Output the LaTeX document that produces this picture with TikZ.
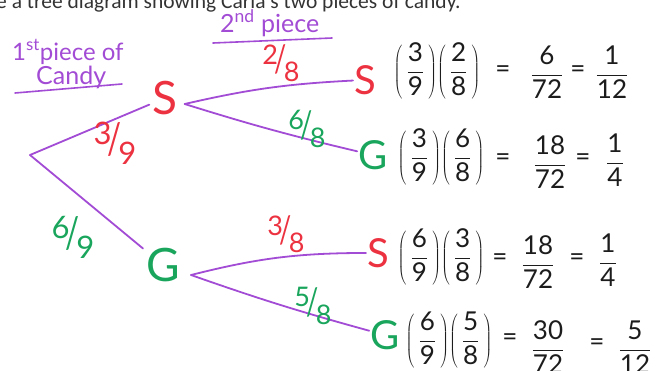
\documentclass[tikz,border=0pt]{standalone}
\usepackage{graphicx}
\usepackage{fontspec}
\setmainfont{Lato}
\newfontfamily\titlefont{Carlito}
\definecolor{pur}{HTML}{A24BD4}
\definecolor{rd}{HTML}{EC3240}
\definecolor{gr}{HTML}{1AA55C}
\definecolor{ink}{HTML}{1C1C1C}
\newcommand\pp[4]{$\displaystyle\left(\,\frac{\hbox{#1}}{\hbox{#2}}\,\right)\!\left(\,\frac{\hbox{#3}}{\hbox{#4}}\,\right)$}
\newcommand\fr[2]{$\displaystyle\frac{\hbox{#1}}{\hbox{#2}}$}
\newcommand\slf[2]{\raisebox{0.32em}{#1}\kern-0.12em\scalebox{1}[1.4]{/}\kern-0.12em\raisebox{-0.32em}{#2}}
\tikzset{
  branch/.style={draw=pur, line width=1.8pt, line cap=round},
  uline/.style={draw=pur, line width=1.6pt, line cap=round},
  big/.style={font=\fontsize{46}{50}\selectfont, inner sep=3pt},
  leaf/.style={font=\fontsize{40}{44}\selectfont, inner sep=1pt},
  prob/.style={font=\fontsize{26}{30}\selectfont, text=ink, inner sep=0pt},
  lab/.style={font=\fontsize{27}{30}\selectfont, inner sep=0pt},
  biglab/.style={font=\fontsize{31}{34}\selectfont, inner sep=0pt},
  hand/.style={text=pur, inner sep=0pt},
}
\begin{document}
\begin{tikzpicture}[x=1pt,y=-1pt]
\useasboundingbox (0,0) rectangle (658,370);
\clip (0,0) rectangle (658,370);
% cut-off title
\node[anchor=base west, font=\titlefont\fontsize{21.5}{24}\selectfont, text=black!80, inner sep=0pt] (title) at (-4,8) {e a tree diagram showing Carla's two pieces of candy.};
% column headings
\node[hand, anchor=base west, font=\fontsize{24}{26}\selectfont] (h1) at (12,60) {1\textsuperscript{st}piece of};
\node[hand, anchor=base west, font=\fontsize{25}{28}\selectfont] (h1b) at (36,84) {Candy};
\draw[uline] (15,93) -- (122,84);
\node[hand, anchor=base west, font=\fontsize{25}{28}\selectfont] (h2) at (220,32) {2\textsuperscript{nd} piece};
\draw[uline] (213,43) -- (332,38);
% tree
\coordinate (root) at (30,155);
\node[big, text=rd] (S) at (165,98) {S};
\node[big, text=gr] (G) at (163,265) {G};
\node[leaf, text=rd] (s1) at (365,80) {S};
\node[leaf, text=gr] (g2) at (373,155) {G};
\node[leaf, text=rd] (s3) at (378,253) {S};
\node[leaf, text=gr] (g4) at (385,335) {G};
\draw[branch] (root) -- (S);
\draw[branch] (root) -- (G);
\draw[branch] ([shift={(4,6)}]S.east) to[bend left=5] (s1);
\draw[branch] ([shift={(4,6)}]S.east) to[bend right=2] (g2);
\draw[branch] ([shift={(8,10)}]G.east) to[bend left=7] (s3);
\draw[branch] ([shift={(8,10)}]G.east) to[bend right=2] (g4);
% branch labels
\node[biglab, text=rd] (p1) at (115,143) {\slf{3}{9}};
\node[biglab, text=gr] (p2) at (73,237) {\slf{6}{9}};
\node[lab, text=rd] (p3) at (281,63) {\slf{2}{8}};
\node[lab, text=gr] (p4) at (307,129) {\slf{6}{8}};
\node[lab, text=rd] (p5) at (286,234) {\slf{3}{8}};
\node[lab, text=gr] (p6) at (313,306) {\slf{5}{8}};
% row 1
\node[prob] (r1a) at (437,71) {\pp{3}{9}{2}{8}};
\node[prob] (r1c) at (503,72) {=};
\node[prob] (r1d) at (547,72) {\fr{6}{72}};
\node[prob] (r1e) at (578,72) {=};
\node[prob] (r1f) at (612,72) {\fr{1}{12}};
% row 2
\node[prob] (r2a) at (441,157) {\pp{3}{9}{6}{8}};
\node[prob] (r2c) at (503,160) {=};
\node[prob] (r2d) at (550,162) {\fr{18}{72}};
\node[prob] (r2e) at (583,160) {=};
\node[prob] (r2f) at (615,160) {\fr{1}{4}};
% row 3
\node[prob] (r3a) at (441,257) {\pp{6}{9}{3}{8}};
\node[prob] (r3c) at (500,260) {=};
\node[prob] (r3d) at (538,262) {\fr{18}{72}};
\node[prob] (r3e) at (577,260) {=};
\node[prob] (r3f) at (608,260) {\fr{1}{4}};
% row 4
\node[prob] (r4a) at (449,340) {\pp{6}{9}{5}{8}};
\node[prob] (r4c) at (510,340) {=};
\node[prob] (r4d) at (548,347) {\fr{30}{72}};
\node[prob] (r4e) at (597,345) {=};
\node[prob] (r4f) at (635,347) {\fr{5}{12}};
\end{tikzpicture}
\end{document}
